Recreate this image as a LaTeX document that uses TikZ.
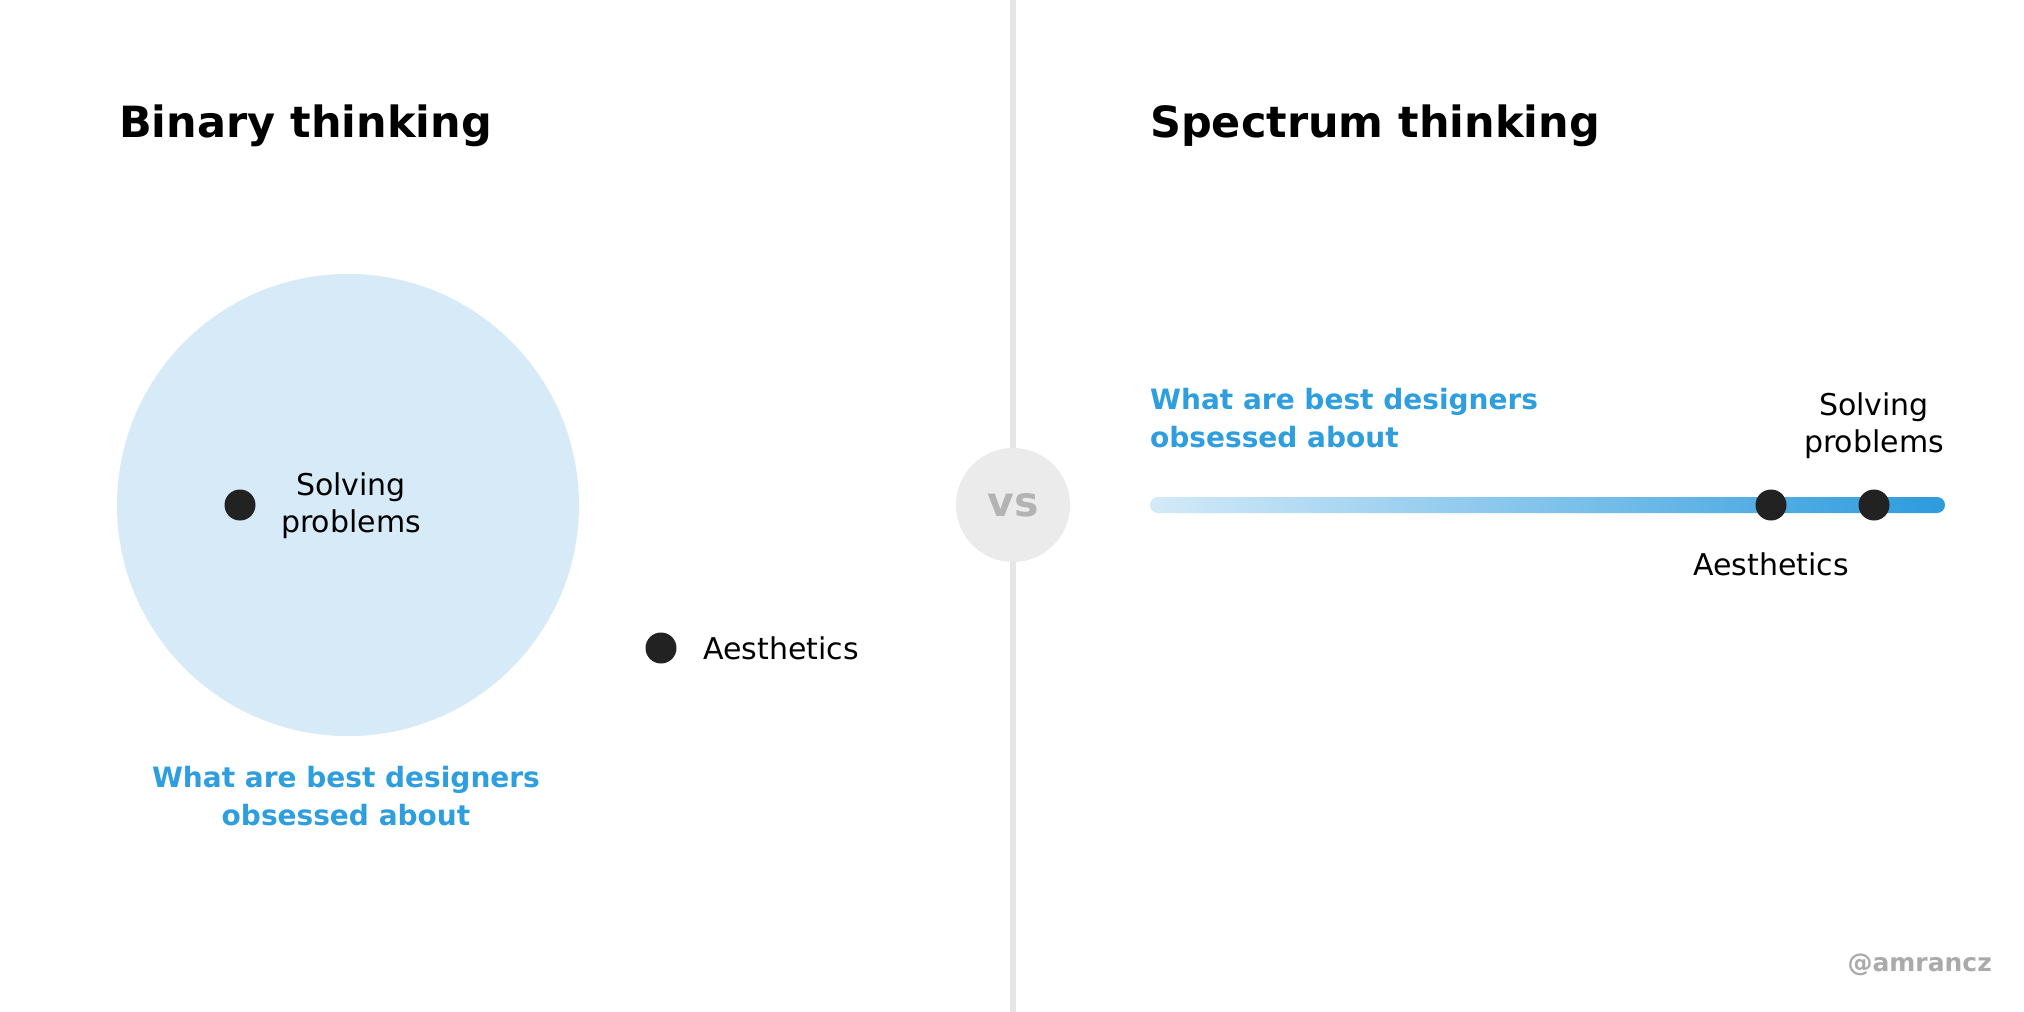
\documentclass[tikz,border=0pt]{standalone}
\usepackage{fontspec}
\setmainfont{DejaVu Sans}
\usetikzlibrary{positioning}
\definecolor{skyfill}{HTML}{D6EAF7}
\definecolor{skytext}{HTML}{2E9EDE}
\definecolor{barlight}{HTML}{D3EAF8}
\definecolor{bardark}{HTML}{2D9BDD}
\definecolor{dotgray}{HTML}{222222}
\definecolor{rulegray}{HTML}{E6E6E6}
\definecolor{vsfill}{HTML}{EBEBEB}
\definecolor{vstext}{HTML}{B3B3B3}
\definecolor{signgray}{HTML}{AAAAAA}
\tikzset{
  heading/.style={anchor=base west,inner sep=0pt,font=\fontsize{43}{50}\selectfont\bfseries},
  bluetext/.style={inner sep=0pt,text=skytext,font=\fontsize{28}{38}\selectfont\bfseries},
  plain/.style={inner sep=0pt,font=\fontsize{30}{37}\selectfont},
  spot/.style={circle,fill=dotgray,minimum size=31pt,inner sep=0pt}
}
\begin{document}
\begin{tikzpicture}[x=1pt,y=-1pt]
\useasboundingbox[fill=white] (0,0) rectangle (2024,1012);
% divider and vs badge
\draw[rulegray,line width=6pt] (1013,0) -- (1013,1012);
\node[circle,fill=vsfill,minimum size=114pt,inner sep=0pt,text=vstext,
  font=\fontsize{41}{41}\selectfont\bfseries] (vs) at (1013,505) {vs};
% left half
\node[heading] (binary) at (119,137) {Binary thinking};
\fill[skyfill] (348,505) circle (231);
\node[spot] (solveL) at (240,505) {};
\node[plain,align=center] (solveLtxt) at (351,506) {Solving\\problems};
\node[spot] (aesL) at (661,648) {};
\node[plain,anchor=west] (aesLtxt) at (703,648) {Aesthetics};
\node[bluetext,align=center] (askL) at (346,796) {What are best designers\\obsessed about};
% right half
\node[heading] (spectrum) at (1150,137) {Spectrum thinking};
\node[bluetext,align=left,anchor=west] (askR) at (1150,418) {What are best designers\\obsessed about};
\shade[left color=barlight,right color=bardark,rounded corners=8pt] (1150,497) rectangle (1945,513);
\node[spot] (aesR) at (1771,505) {};
\node[spot] (solveR) at (1874,505) {};
\node[plain,align=center] (solveRtxt) at (1874,426) {Solving\\problems};
\node[plain] (aesRtxt) at (1771,564) {Aesthetics};
% signature
\node[anchor=east,inner sep=0pt,text=signgray,font=\fontsize{25}{25}\selectfont\bfseries] (sign) at (1992,965) {@amrancz};
\end{tikzpicture}
\end{document}
